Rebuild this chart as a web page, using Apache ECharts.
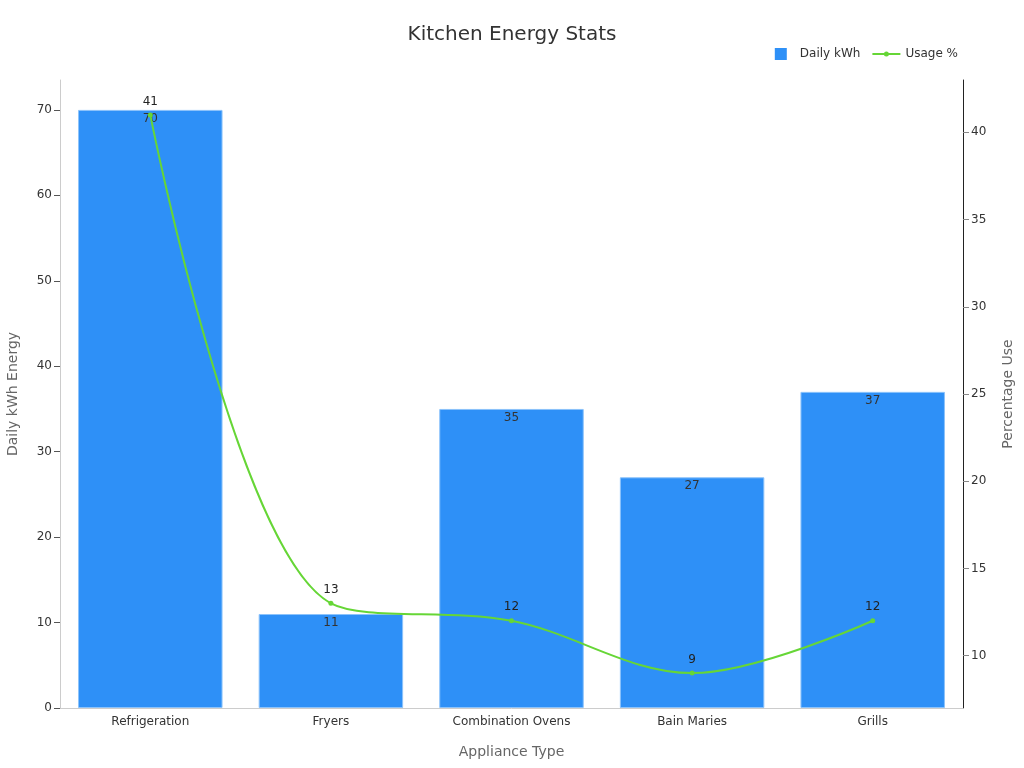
<!DOCTYPE html>
<html>
<head>
<meta charset="utf-8">
<script src="https://cdn.jsdelivr.net/npm/echarts@6/dist/echarts.min.js"></script>
<style>
  html, body { margin: 0; padding: 0; background: #fff; }
  #chart { width: 1024px; height: 768px; }
</style>
</head>
<body>
<div id="chart"></div>
<script>
var appliances = ['Refrigeration', 'Fryers', 'Combination Ovens', 'Bain Maries', 'Grills'];
var daily_kwh = [70, 11, 35, 27, 37];
var usage_pct = [41, 13, 12, 9, 12];
var pct_ticks = [10, 15, 20, 25, 30, 35, 40];

var chart = echarts.init(document.getElementById('chart'));

var font = 'DejaVu Sans';

chart.setOption({
    textStyle: {fontFamily: font},
    title: {
	text: 'Kitchen Energy Stats',
	left: 'center',
	top: 20,
	textStyle: {fontSize: 20, fontWeight: 'normal', color: '#333', fontFamily: font}
    },
    legend: {
	right: 61,
	top: 43,
	itemWidth: 28,
	itemHeight: 12,
	itemGap: 12,
	textStyle: {fontSize: 12, color: '#333'},
	data: [
	    {name: 'Daily kWh', icon: 'path://M0,0H10V10H0Z', itemStyle: {borderWidth: 0}},
	    {name: 'Usage %', icon: 'path://M0,5H28V7H0Z M11.5,6a2.5,2.5 0 1,1 5,0a2.5,2.5 0 1,1 -5,0Z'}
	]
    },
    grid: {left: 60, right: 61, top: 80, bottom: 60, containLabel: false, outerBoundsMode: 'none'},
    xAxis: {
	type: 'category',
	data: appliances,
	name: 'Appliance Type',
	nameLocation: 'middle',
	nameGap: 37,
	nameTextStyle: {fontSize: 14, color: '#666'},
	axisLine: {lineStyle: {color: '#ccc'}},
	axisTick: {alignWithLabel: true, lineStyle: {color: '#666'}},
	axisLabel: {color: '#333', fontSize: 12}
    },
    yAxis: [{
	type: 'value',
	min: 0,
	max: 73.5,
	interval: 10,
	name: 'Daily kWh Energy',
	nameLocation: 'middle',
	nameGap: 40,
	nameTextStyle: {fontSize: 14, color: '#666'},
	axisLine: {show: true, lineStyle: {color: '#ccc'}},
	axisTick: {show: true, length: 6, lineStyle: {color: '#555'}},
	axisLabel: {color: '#333', fontSize: 12, showMaxLabel: false},
	splitLine: {show: false}
    }, {
	type: 'value',
	min: 7,
	max: 43,
	name: 'Percentage Use',
	nameLocation: 'middle',
	nameGap: 38,
	nameTextStyle: {fontSize: 14, color: '#666'},
	axisLine: {show: true, lineStyle: {color: '#222'}},
	axisTick: {show: true, length: 6, customValues: pct_ticks, lineStyle: {color: '#888'}},
	axisLabel: {color: '#333', fontSize: 12, customValues: pct_ticks},
	splitLine: {show: false}
    }],
    series: [{
	name: 'Daily kWh',
	type: 'bar',
	data: daily_kwh,
	barCategoryGap: '20%',
	itemStyle: {color: '#2e90f7', borderColor: '#8cc3fb', borderWidth: 1},
	label: {show: true, position: 'insideTop', color: '#333', fontSize: 12, offset: [0, -2]}
    }, {
	name: 'Usage %',
	type: 'line',
	yAxisIndex: 1,
	data: usage_pct,
	smooth: 0.35,
	symbol: 'circle',
	symbolSize: 5,
	lineStyle: {color: '#66d636', width: 2},
	itemStyle: {color: '#66d636'},
	label: {show: true, position: 'top', color: '#222', fontSize: 12}
    }]
});
</script>
</body>
</html>
